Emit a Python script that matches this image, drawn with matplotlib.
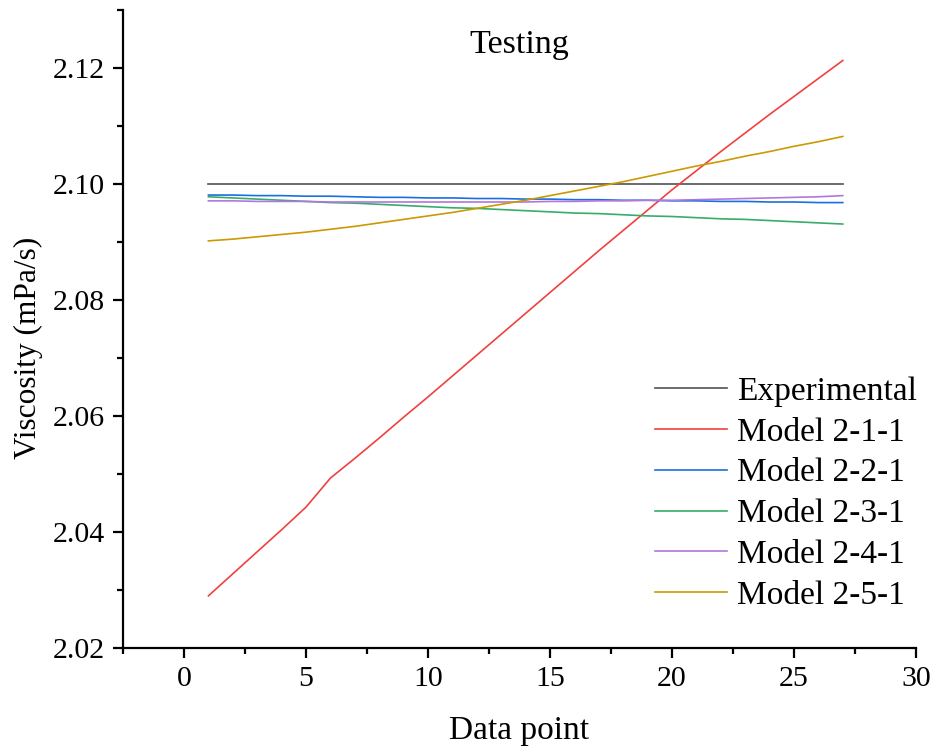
import numpy as np
import matplotlib
matplotlib.use('Agg')
import matplotlib.pyplot as plt
from matplotlib.ticker import MultipleLocator, FormatStrFormatter

plt.rcParams['font.family'] = ['Liberation Serif', 'DejaVu Serif']

points = np.arange(1, 28)

experimental = [2.1000] * 27
model_211 = [2.0290, 2.0328, 2.0366, 2.0404, 2.0443, 2.0493, 2.0527, 2.0562, 2.0598,
             2.0633, 2.0669, 2.0705, 2.0741, 2.0777, 2.0813, 2.0849, 2.0885, 2.0920,
             2.0955, 2.0990, 2.1023, 2.1056, 2.1088, 2.1120, 2.1151, 2.1182, 2.1213]
model_221 = [2.0981, 2.0981, 2.0980, 2.0980, 2.0979, 2.0979, 2.0978, 2.0977, 2.0977,
             2.0976, 2.0976, 2.0975, 2.0975, 2.0974, 2.0974, 2.0973, 2.0973, 2.0972,
             2.0972, 2.0971, 2.0971, 2.0970, 2.0970, 2.0969, 2.0969, 2.0968, 2.0968]
model_231 = [2.0978, 2.0976, 2.0974, 2.0972, 2.0970, 2.0968, 2.0967, 2.0965, 2.0963,
             2.0961, 2.0959, 2.0958, 2.0956, 2.0954, 2.0952, 2.0950, 2.0949, 2.0947,
             2.0945, 2.0944, 2.0942, 2.0940, 2.0939, 2.0937, 2.0935, 2.0933, 2.0931]
model_241 = [2.0971, 2.0971, 2.0970, 2.0970, 2.0970, 2.0969, 2.0969, 2.0969, 2.0969,
             2.0969, 2.0969, 2.0969, 2.0969, 2.0969, 2.0970, 2.0970, 2.0971, 2.0971,
             2.0972, 2.0972, 2.0973, 2.0974, 2.0975, 2.0976, 2.0977, 2.0978, 2.0980]
model_251 = [2.0902, 2.0905, 2.0909, 2.0913, 2.0917, 2.0922, 2.0927, 2.0933, 2.0939,
             2.0945, 2.0951, 2.0958, 2.0965, 2.0972, 2.0980, 2.0988, 2.0996, 2.1004,
             2.1013, 2.1022, 2.1031, 2.1039, 2.1048, 2.1056, 2.1065, 2.1073, 2.1082]

series = [
    ('Experimental', experimental, '#515151'),
    ('Model 2-1-1', model_211, '#F14040'),
    ('Model 2-2-1', model_221, '#1A6FDF'),
    ('Model 2-3-1', model_231, '#37AD6B'),
    ('Model 2-4-1', model_241, '#B177DE'),
    ('Model 2-5-1', model_251, '#CC9900'),
]

fig = plt.figure(figsize=(9.37, 7.53), dpi=100)
ax = fig.add_axes([0.1313, 0.1394, 0.8463, 0.8473])

for name, vals, col in series:
    ax.plot(points, vals, color=col, lw=1.2, label=name)

ax.set_xlim(-2.5, 30)
ax.set_ylim(2.02, 2.13)
ax.xaxis.set_major_locator(MultipleLocator(5))
ax.xaxis.set_minor_locator(MultipleLocator(2.5))
ax.yaxis.set_major_locator(MultipleLocator(0.02))
ax.yaxis.set_minor_locator(MultipleLocator(0.01))
ax.yaxis.set_major_formatter(FormatStrFormatter('%.2f'))

for s in ['top', 'right']:
    ax.spines[s].set_visible(False)
for s in ['left', 'bottom']:
    ax.spines[s].set_linewidth(1.6)

ax.tick_params(which='major', direction='out', length=7, width=1.6, labelsize=21.5, pad=6)
ax.tick_params(which='minor', direction='out', length=4.5, width=1.6)

ax.set_xlabel('Data point', fontsize=24, labelpad=17)
ax.set_ylabel('Viscosity (mPa/s)', fontsize=22.6)
ax.yaxis.set_label_coords(-0.101, 0.47)
ax.text(0.5, 0.946, 'Testing', transform=ax.transAxes, ha='center', va='center', fontsize=24.5)

ax.legend(loc='upper left', bbox_to_anchor=(0.671, 0.426), frameon=False, fontsize=24,
          handlelength=2.16, handletextpad=0.3, labelspacing=0.31, borderpad=0,
          borderaxespad=0)

fig.savefig('out.png', dpi=100)
